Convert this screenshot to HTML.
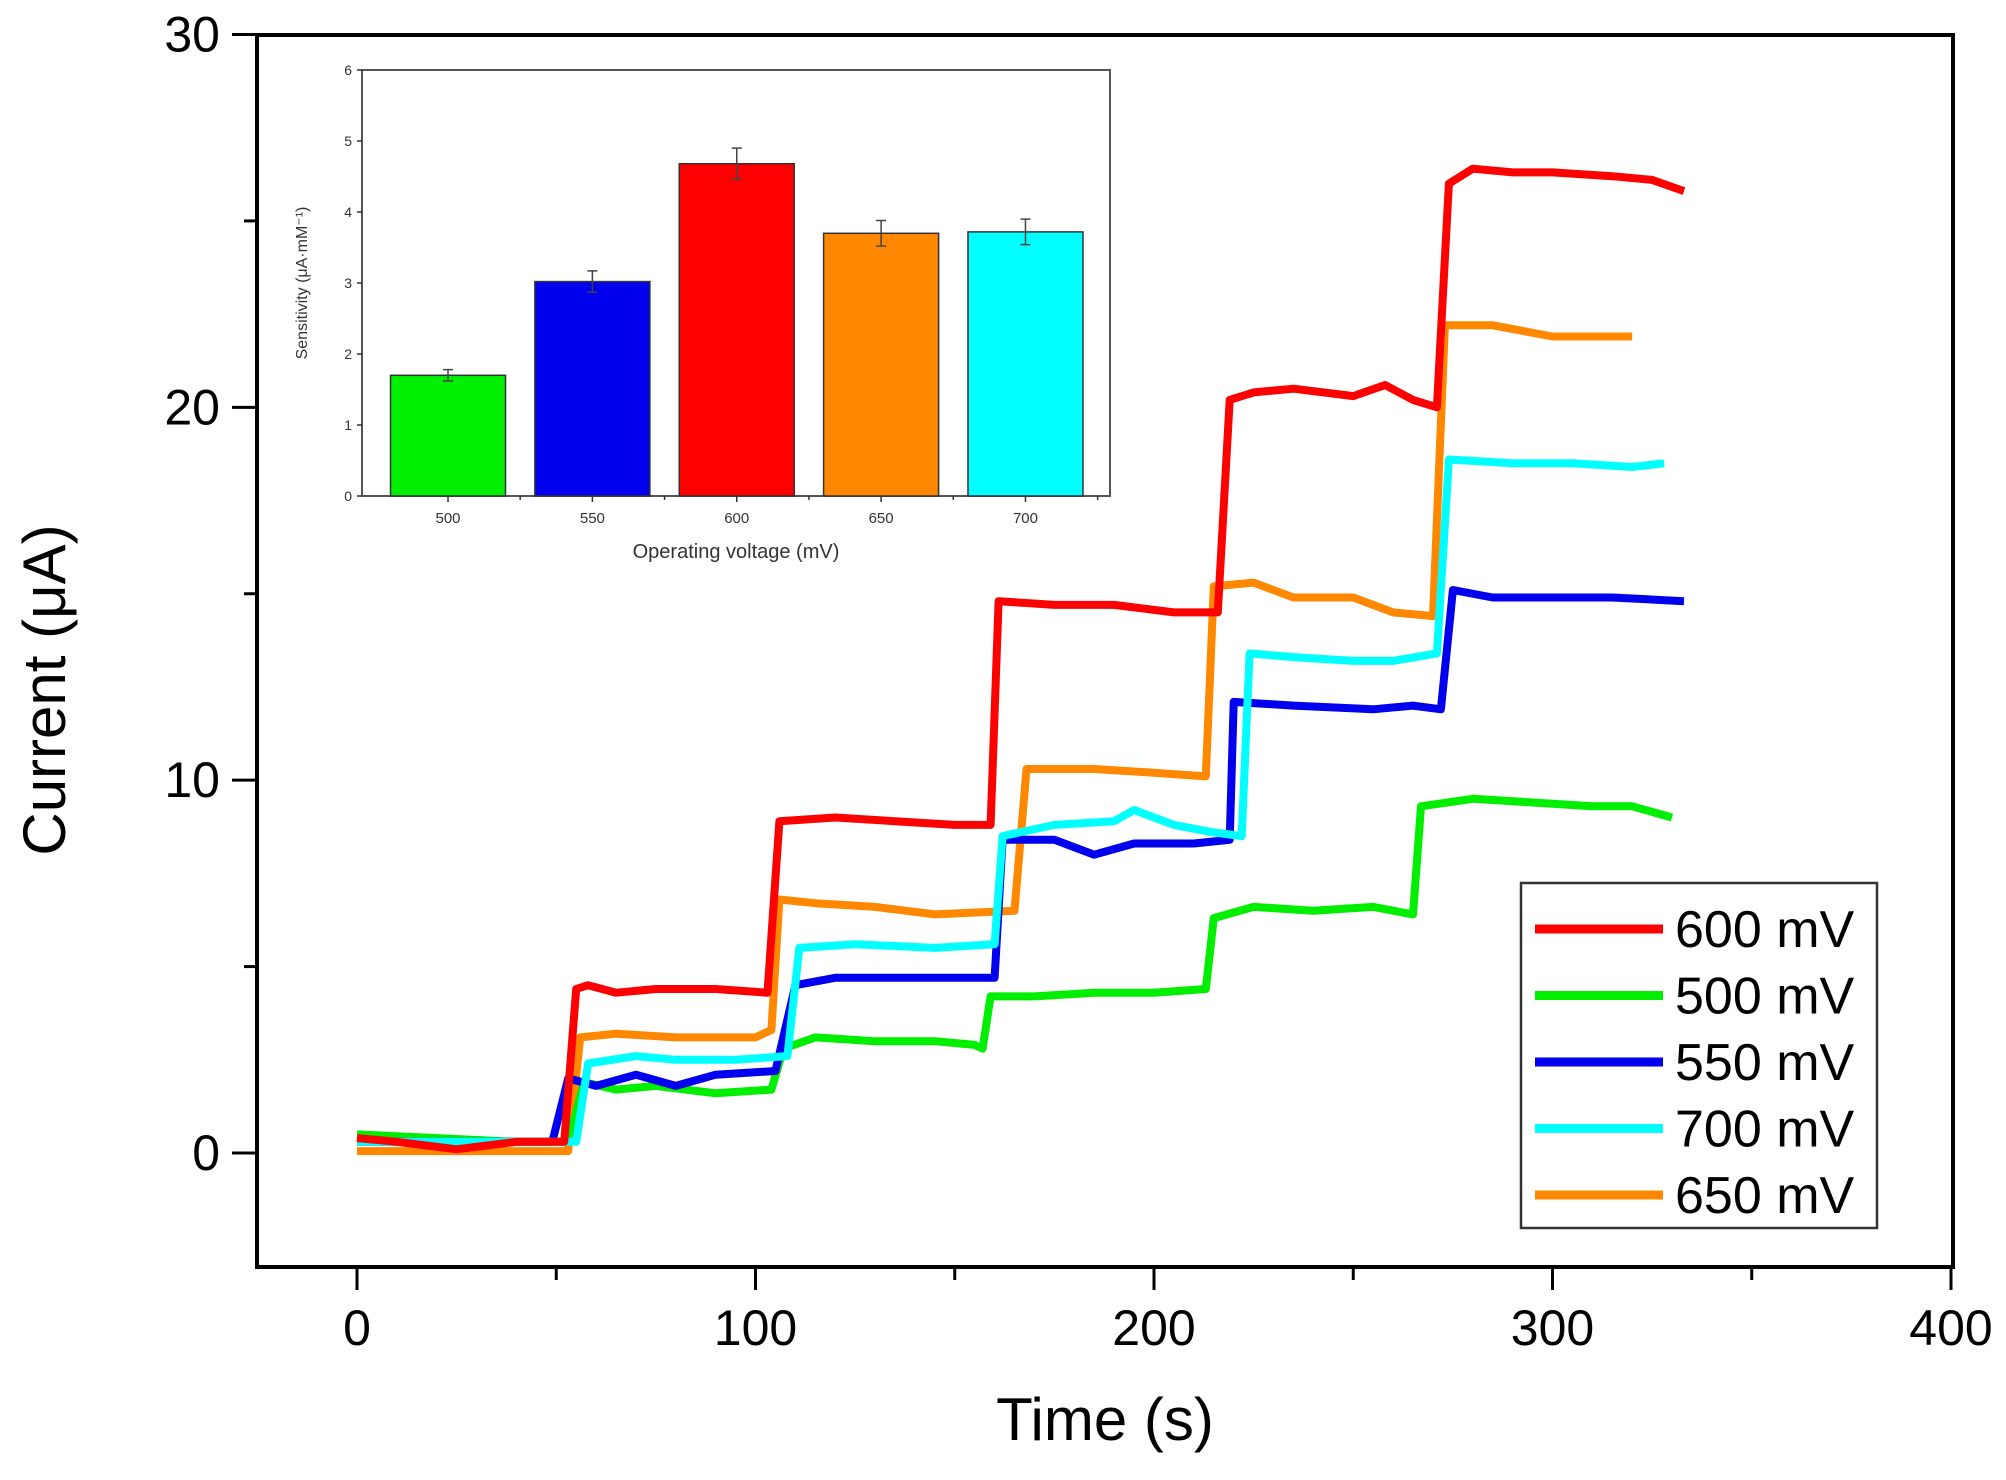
<!DOCTYPE html>
<html><head><meta charset="utf-8"><style>
html,body{margin:0;padding:0;background:#fff;}
svg{display:block;font-family:"Liberation Sans",sans-serif;}
</style></head><body>
<svg id="chart" width="2006" height="1480" viewBox="0 0 2006 1480">
<g id="main"></g>
<g id="inset"></g>
<g id="legend"></g>
</svg>
<script>
const seriesNames = ["600 mV","500 mV","550 mV","700 mV","650 mV"];
const seriesColors = ["#ff0000","#00ee00","#0000ee","#00ffff","#ff8800"];
const s600 = [[0,0.4],[10,0.3],[25,0.1],[40,0.3],[52,0.3],[55,4.4],[58,4.5],[65,4.3],[75,4.4],[90,4.4],[103,4.3],[106,8.9],[120,9.0],[135,8.9],[150,8.8],[159,8.8],[161,14.8],[175,14.7],[190,14.7],[205,14.5],[216,14.5],[219,20.2],[225,20.4],[235,20.5],[250,20.3],[258,20.6],[265,20.2],[271,20.0],[274,26.0],[280,26.4],[290,26.3],[300,26.3],[315,26.2],[325,26.1],[333,25.8]];
const s500 = [[0,0.5],[20,0.4],[40,0.3],[53,0.3],[57,1.9],[65,1.7],[75,1.8],[90,1.6],[104,1.7],[107,2.8],[115,3.1],[130,3.0],[145,3.0],[155,2.9],[157,2.8],[159,4.2],[170,4.2],[185,4.3],[200,4.3],[213,4.4],[215,6.3],[225,6.6],[240,6.5],[255,6.6],[265,6.4],[267,9.3],[280,9.5],[295,9.4],[310,9.3],[320,9.3],[330,9.0]];
const s550 = [[0,0.3],[30,0.3],[49,0.3],[53,2.0],[60,1.8],[70,2.1],[80,1.8],[90,2.1],[105,2.2],[110,4.5],[120,4.7],[140,4.7],[160,4.7],[162,8.4],[175,8.4],[185,8.0],[195,8.3],[210,8.3],[219,8.4],[220,12.1],[235,12.0],[255,11.9],[265,12.0],[272,11.9],[275,15.1],[285,14.9],[300,14.9],[315,14.9],[333,14.8]];
const s700 = [[0,0.3],[30,0.3],[55,0.3],[58,2.4],[70,2.6],[80,2.5],[95,2.5],[108,2.6],[111,5.5],[125,5.6],[145,5.5],[160,5.6],[162,8.5],[175,8.8],[190,8.9],[195,9.2],[205,8.8],[215,8.6],[222,8.5],[224,13.4],[235,13.3],[250,13.2],[260,13.2],[271,13.4],[274,18.6],[290,18.5],[305,18.5],[320,18.4],[328,18.5]];
const s650 = [[0,0.05],[30,0.05],[53,0.05],[56,3.1],[65,3.2],[80,3.1],[100,3.1],[104,3.3],[106,6.8],[115,6.7],[130,6.6],[145,6.4],[165,6.5],[168,10.3],[185,10.3],[200,10.2],[213,10.1],[215,15.2],[225,15.3],[235,14.9],[250,14.9],[260,14.5],[270,14.4],[273,22.2],[285,22.2],[300,21.9],[320,21.9]];
const xTicks = [0,100,200,300,400];
const xMinor = [50,150,250,350];
const yTicks = [0,10,20,30];
const yMinor = [5,15,25];
const insetCats = ["500","550","600","650","700"];
const insetVals = [1.7,3.02,4.68,3.7,3.72];
const insetErr = [0.08,0.15,0.22,0.18,0.18];
const insetColors = ["#00ee00","#0000ee","#ff0000","#ff8800","#00ffff"];
const insetYTicks = [0,1,2,3,4,5,6];

const NS="http://www.w3.org/2000/svg";
function mk(parent,tag,attrs,text){const e=document.createElementNS(NS,tag);for(const k in attrs)e.setAttribute(k,attrs[k]);if(text!==undefined)e.textContent=text;parent.appendChild(e);return e;}
const X=t=>357+t*(1951-357)/400;
const Y=v=>1153-v*(1153-34.5)/30;
const main=document.getElementById('main');
// frame
let fr=mk(main,'rect',{x:257,y:35,width:1696,height:1232,fill:'none',stroke:'#000','stroke-width':4});


xTicks.forEach(t=>{
  let l=mk(main,'line',{x1:X(t),x2:X(t),y1:1267,y2:1290,stroke:'#000','stroke-width':3});
  
  
  let tx=mk(main,'text',{x:X(t),y:1345,'font-size':50,'text-anchor':'middle'},String(t));
  
  
});
xMinor.forEach(t=>{
  let l=mk(main,'line',{x1:X(t),x2:X(t),y1:1267,y2:1280,stroke:'#000','stroke-width':3});
  
  
});
yTicks.forEach(v=>{
  let l=mk(main,'line',{x1:232,x2:257,y1:Y(v),y2:Y(v),stroke:'#000','stroke-width':3});
  
  
  let tx=mk(main,'text',{x:220,y:Y(v)+17,'font-size':50,'text-anchor':'end'},String(v));
  
  
});
yMinor.forEach(v=>{
  let l=mk(main,'line',{x1:244,x2:257,y1:Y(v),y2:Y(v),stroke:'#000','stroke-width':3});
  
  
});
let xt=mk(main,'text',{x:1105,y:1440,'font-size':60,'text-anchor':'middle'},'Time (s)');


let yt=mk(main,'text',{x:0,y:0,'font-size':60,'text-anchor':'middle',transform:'translate(65,690) rotate(-90)'},'Current (μA)');


const allSeries=[s600,s500,s550,s700,s650];
[4,1,2,3,0].forEach(i=>{
  const d=allSeries[i].map((p,j)=>(j?'L':'M')+X(p[0]).toFixed(1)+','+Y(p[1]).toFixed(1)).join(' ');
  let p=mk(main,'path',{d:d,fill:'none',stroke:seriesColors[i],'stroke-width':8,'stroke-linejoin':'round'});
  
  
});
// legend
const lg=document.getElementById('legend');
let lb=mk(lg,'rect',{x:1521,y:883,width:356,height:345,fill:'#fff',stroke:'#333','stroke-width':2.5});


seriesNames.forEach((n,i)=>{
  const yy=929+i*66.5;
  let g=mk(lg,'g',{});
  
  
  mk(g,'line',{x1:1535,x2:1663,y1:yy,y2:yy,stroke:seriesColors[i],'stroke-width':9});
  mk(g,'text',{x:1675,y:yy+18,'font-size':52},n);
});
// inset
const ins=document.getElementById('inset');
const IL=362,IR=1110,IT=70,IB=496;
const IX=i=>IL+(IR-IL)*(0.115+i*0.193);
const IY=v=>IB-v*(IB-IT)/6;
let ib=mk(ins,'rect',{x:IL,y:IT,width:IR-IL,height:IB-IT,fill:'#fff',stroke:'#555','stroke-width':2});


insetVals.forEach((v,i)=>{
  const w=115;
  let r=mk(ins,'rect',{x:IX(i)-w/2,y:IY(v),width:w,height:IB-IY(v),fill:insetColors[i],stroke:'#333','stroke-width':1.5});
  
  
  let e=mk(ins,'path',{d:`M${IX(i)},${IY(v-insetErr[i])}V${IY(v+insetErr[i])}M${IX(i)-5},${IY(v+insetErr[i])}h10M${IX(i)-5},${IY(v-insetErr[i])}h10`,stroke:'#444','stroke-width':1.5,fill:'none'});
  
  
  let t=mk(ins,'text',{x:IX(i),y:IB+27,'font-size':15,'text-anchor':'middle',fill:'#333'},insetCats[i]);
  
  
  mk(ins,'line',{x1:IX(i),x2:IX(i),y1:IB,y2:IB+6,stroke:'#333','stroke-width':1.5});
  mk(ins,'line',{x1:IX(i)+(IR-IL)*0.0965,x2:IX(i)+(IR-IL)*0.0965,y1:IB,y2:IB+4,stroke:'#333','stroke-width':1.5});
});
insetYTicks.forEach(v=>{
  mk(ins,'line',{x1:IL-5,x2:IL,y1:IY(v),y2:IY(v),stroke:'#333','stroke-width':1.5});
  let t=mk(ins,'text',{x:IL-10,y:IY(v)+5,'font-size':14,'text-anchor':'end',fill:'#333'},String(v));
  
  
});
let ixt=mk(ins,'text',{x:(IL+IR)/2,y:IB+62,'font-size':20,'text-anchor':'middle',fill:'#333'},'Operating voltage (mV)');


let iyt=mk(ins,'text',{x:0,y:0,'font-size':16,'text-anchor':'middle',fill:'#333',transform:`translate(307,${(IT+IB)/2}) rotate(-90)`},'Sensitivity (μA·mM⁻¹)');


</script>
</body></html>
